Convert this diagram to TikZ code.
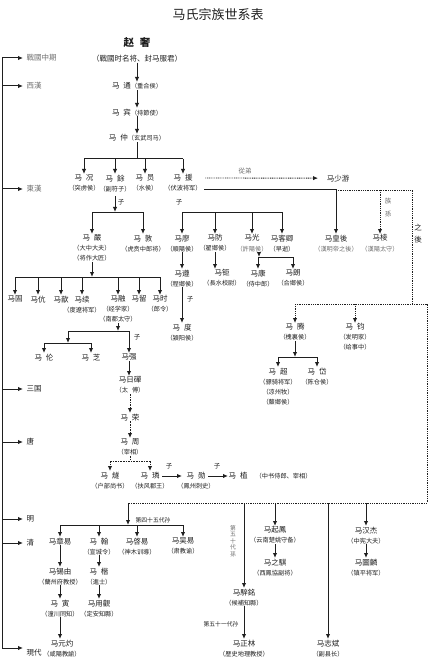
\documentclass[tikz,border=0pt]{standalone}
\usepackage{fontspec}
\setmainfont{Noto Sans CJK SC}
\usetikzlibrary{arrows.meta}
\definecolor{ink}{HTML}{1f1f1f}
\definecolor{pale}{HTML}{707070}
\newcommand{\mgap}{\hspace{4pt}}
\newcommand{\rank}[1]{{\fontsize{6.2}{10}\selectfont（#1）}}

\begin{document}
\begin{tikzpicture}[x=1pt, y=-1pt, font=\fontsize{7.5}{10}\selectfont,
  person/.style={anchor=north, align=center, inner sep=0.5pt, text=ink},
  era/.style={anchor=west, inner sep=0.5pt, text=ink},
  tag/.style={inner sep=0.5pt, text=ink, font=\fontsize{6.5}{7}\selectfont},
  link/.style={draw=ink, line width=1pt},
  arrow/.style={link, -{Latex[length=5pt, width=4.4pt]}},
  dashline/.style={link, dash pattern=on 1.6pt off 1pt},
  dasharrow/.style={dashline, -{Latex[length=5pt, width=4.4pt]}},
  dotline/.style={link, line width=0.9pt, dash pattern=on 0.9pt off 0.9pt},
  dotarrow/.style={dotline, -{Latex[length=5pt, width=4.4pt]}}
]
  \fill[white] (0,0) rectangle (435,660);
  \useasboundingbox (0,0) rectangle (435,660);

  \node[text=ink, font=\fontsize{13}{13}\selectfont] (title) at (218,14) {马氏宗族世系表};

  \node[era, text=pale] (zhanguo) at (26,58) {戰國中期};
  \node[era, text=pale] (xihan) at (26,86) {西漢};
  \node[era, text=pale] (donghan) at (26,189) {東漢};
  \node[era] (sanguo) at (26,389) {三国};
  \node[era] (tang) at (26,442) {唐};
  \node[era] (ming) at (26,519) {明};
  \node[era] (qing) at (26,543) {清};
  \node[era] (xiandai) at (26,653) {現代};

  \coordinate (spine) at (2,58);
  \coordinate (spineend) at (2,648);
  \draw[link] (spine) -- (spineend);
  \foreach \e in {zhanguo,xihan,donghan,sanguo,tang,ming,qing} {
    \draw[arrow, shorten >=3pt] (spine |- \e.west) -- (\e.west);
  }
  \draw[arrow, shorten >=3pt] (spineend) -- (spineend -| xiandai.west);

  \node[text=ink, inner sep=0.5pt, font=\fontsize{10.5}{10.5}\selectfont\bfseries] (zhao) at (137,43) {赵\hspace{6pt}奢};
  \node[person] (zhaonote) at (137,54) {（戰國时名将、封马服君）};
  \node[person] (matong) at (137,82) {马\mgap 通\rank{重合侯}};
  \node[person] (mabin) at (137,108) {马\mgap 宾\rank{持節使}};
  \node[person] (mazhong) at (137,134) {马\mgap 仲\rank{玄武司马}};
  \draw[arrow] (zhaonote) -- (matong);
  \draw[arrow] (matong) -- (mabin);
  \draw[arrow] (mabin) -- (mazhong);

  \node[person] (kuang) at (84,174) {马\mgap 况\\\rank{突虏侯}};
  \node[person] (yu) at (115,174) {马\mgap 餘\\\rank{副符子}};
  \node[person] (yuan) at (145,174) {马\mgap 员\\\rank{水侯}};
  \node[person] (mayuan) at (183,174) {马\mgap 援\\\rank{伏波将军}};
  \coordinate (bus1) at (137,159);
  \draw[link] (mazhong) -- (bus1);
  \draw[link] (kuang |- bus1) -- (mayuan |- bus1);
  \foreach \n in {kuang,yu,yuan,mayuan} {
    \draw[arrow] (\n |- bus1) -- (\n);
  }

  \node[person] (shaoyou) at (338,174) {马少游};
  \node[tag, text=pale] (congdi) at (245,171) {從弟};
  \draw[dotarrow, shorten >=8pt] ([shift={(3pt,-4pt)}]mayuan.north east) -- (shaoyou.west);

  \node[person] (yan) at (92,234) {马\mgap 嚴\\\rank{大中大夫}\\\rank{将作大匠}};
  \node[person] (dun) at (143,234) {马\mgap 敦\\\rank{虎贲中郎将}};
  \node[tag] (zi1) at (121,202) {子};
  \coordinate (bus2) at (115,212);
  \draw[arrow, shorten <=4pt] (yu) -- (yu |- bus2);
  \draw[link] (yan |- bus2) -- (dun |- bus2);
  \foreach \n in {yan,dun} {
    \draw[arrow] (\n |- bus2) -- (\n);
  }

  \node[person] (liao) at (182,234) {马廖\\\rank{順陽侯}};
  \node[person] (fang) at (215,234) {马防\\\rank{翟鄉侯}};
  \node[person] (guang) at (252,234) {马光\\{\color{pale}\rank{許陽侯}}};
  \node[person] (keqing) at (282,234) {马客卿\\\rank{早逝}};
  \node[tag] (zi2) at (179,202) {子};
  \coordinate (bus3) at (182,212);
  \draw[link] (liao |- bus3) -- (keqing |- bus3);
  \foreach \n in {liao,fang,guang,keqing} {
    \draw[arrow] (\n |- bus3) -- (\n);
  }

  \node[person] (huanghou) at (336,234) {马皇後\\{\color{pale}\rank{漢明帝之後}}};
  \node[person] (leng) at (380,234) {马棱\\{\color{pale}\rank{漢陽太守}}};
  \node[tag, text=pale, align=center, font=\fontsize{6.5}{13}\selectfont] (zusun) at (388,208) {族\\孫};
  \node[tag, align=center, font=\fontsize{7.5}{12}\selectfont] (zhihou) at (418,234) {之\\後};
  \coordinate (heir) at (204,190);
  \coordinate (line1) at (412,190);
  \coordinate (bar2) at (412,304);
  \coordinate (far2) at (427,304);
  \coordinate (far3) at (427,503);
  \coordinate (bar3) at (128,503);
  \draw[arrow] (heir) -| (huanghou);
  \draw[dotline] (huanghou |- heir) -- (line1) -- (bar2);
  \draw[dotarrow] (leng |- heir) -- (leng);

  \node[person] (zun) at (182,269) {马遵\\\rank{程鄉侯}};
  \node[person] (ju) at (222,269) {马钜\\\rank{長水校尉}};
  \node[person] (kang) at (258,269) {马康\\\rank{侍中郎}};
  \node[person] (lang) at (293,269) {马朗\\\rank{合鄉侯}};
  \draw[arrow] (liao) -- (zun);
  \draw[arrow] (fang) -- (fang |- ju.north);
  \coordinate (bus5) at (259,257);
  \draw[arrow] (guang.south -| bus5) -- (bus5);
  \draw[link] (kang |- bus5) -- (lang |- bus5);
  \foreach \n in {kang,lang} {
    \draw[arrow] (\n |- bus5) -- (\n);
  }

  \node[person] (madu) at (182,323) {马\mgap 度\\\rank{潁阳侯}};
  \node[tag] (zi3) at (190,299) {子};
  \draw[arrow] (zun) -- (madu);

  \node[person] (gu) at (15,295) {马固};
  \node[person] (hang) at (38,295) {马伉};
  \node[person] (xin) at (61,295) {马歆};
  \node[person] (xu) at (82,295) {马续\\\rank{度遼将军}};
  \node[person] (rong) at (118,295) {马融\\\rank{经学家}\\\rank{南郡太守}};
  \node[person] (liu) at (139,295) {马留};
  \node[person] (shi) at (160,295) {马时\\\rank{郎令}};
  \coordinate (bus6) at (94,277);
  \draw[arrow] (yan) -- (yan |- bus6);
  \draw[link] (gu |- bus6) -- (shi |- bus6);
  \foreach \n in {gu,hang,xin,xu,rong,liu,shi} {
    \draw[arrow] (\n |- bus6) -- (\n);
  }

  \node[person] (lun) at (44,353) {马\mgap 伦};
  \node[person] (zhi) at (91,353) {马\mgap 芝};
  \node[person] (qiang) at (129,353) {马强};
  \node[tag] (zi4) at (137,337) {子};
  \coordinate (bus7) at (118,331);
  \coordinate (bus7a) at (68,331);
  \coordinate (bus8) at (68,343);
  \draw[arrow] (rong) -- (bus7);
  \draw[link] (bus7a) -- (qiang |- bus7);
  \draw[arrow] (bus7a) -- (bus8);
  \draw[arrow] (qiang |- bus7) -- (qiang);
  \draw[link] (lun |- bus8) -- (zhi |- bus8);
  \foreach \n in {lun,zhi} {
    \draw[arrow] (\n |- bus8) -- (\n);
  }

  \node[person] (midi) at (130,376) {马日磾\\\rank{太\mgap 傅}};
  \node[person] (marong) at (130,413) {马\mgap 荣};
  \node[person] (zhou) at (130,438) {马\mgap 周\\\rank{宰相}};
  \draw[arrow] (qiang) -- (qiang |- midi.north);
  \draw[dasharrow] (midi) -- (marong);
  \draw[dasharrow] (marong) -- (zhou);

  \node[person] (sui) at (110,471) {马\mgap 燧\\\rank{户部尚书}};
  \node[person] (lin) at (150,471) {马\mgap 璘\\\rank{扶风郡王}};
  \node[person] (xun) at (196,471) {马\mgap 勋\\\rank{鳳州刺史}};
  \node[person, anchor=west] (mazhi) at (228,476) {马\mgap 植\hspace{8pt}\rank{中书侍郎、宰相}};
  \coordinate (bus9) at (130,461);
  \draw[dashline] (zhou) -- (bus9);
  \draw[dashline] (sui |- bus9) -- (lin |- bus9);
  \foreach \n in {sui,lin} {
    \draw[dasharrow] (\n |- bus9) -- (\n);
  }
  \node[tag] (zi5) at (169,466) {子};
  \node[tag] (zi6) at (217,466) {子};
  \draw[arrow] ([shift={(12pt,-5pt)}]lin.north) -- ([shift={(-14pt,-5pt)}]xun.north);
  \draw[arrow] ([shift={(12pt,-5pt)}]xun.north) -- (mazhi.west);

  \node[person] (teng) at (295,323) {马\mgap 腾\\\rank{槐裏侯}};
  \node[person] (jun) at (355,323) {马\mgap 钧\\\rank{发明家}\\\rank{给事中}};
  \draw[dotline] (teng |- bar2) -- (far2) -- (far3) -- (bar3);
  \foreach \n in {teng,jun} {
    \draw[dotarrow] (\n |- bar2) -- (\n);
  }

  \node[person] (chao) at (278,367) {马\mgap 超\\\rank{骠骑将军}\\\rank{凉州牧}\\\rank{斄鄉侯}};
  \node[person] (dai) at (317,367) {马\mgap 岱\\\rank{陈仓侯}};
  \coordinate (bus10) at (295,357);
  \draw[arrow] (teng) -- (bus10);
  \draw[link] (chao |- bus10) -- (dai |- bus10);
  \foreach \n in {chao,dai} {
    \draw[arrow] (\n |- bus10) -- (\n);
  }

  \node[person] (zhangyi) at (60,537) {马章易};
  \node[person] (mahan) at (99,537) {马\mgap 翰\\\rank{宣城令}};
  \node[person] (qiyi) at (137,537) {马啓易\\\rank{神木训導}};
  \node[person] (wuyi) at (183,537) {马吴易\\\rank{肃教谕}};
  \node[tag, font=\fontsize{5.8}{6}\selectfont] (gen45) at (153,520) {第四十五代孙};
  \coordinate (bus4) at (128,525);
  \draw[arrow] (bar3) -- (bus4);
  \draw[link] (zhangyi |- bus4) -- (wuyi |- bus4);
  \foreach \n in {zhangyi,mahan,qiyi,wuyi} {
    \draw[arrow] (\n |- bus4) -- (\n);
  }

  \node[person] (xiyou) at (60,567) {马锡由\\\rank{蘭州府教授}};
  \node[person] (kai) at (99,567) {马\mgap 楷\\\rank{進士}};
  \node[person] (yin) at (60,599) {马\mgap 寅\\\rank{潼川同知}};
  \node[person] (yongguan) at (99,599) {马用觀\\\rank{定安知縣}};
  \node[person] (yuanzhuo) at (62,639) {马元灼\\\rank{咸陽教諭}};
  \draw[arrow] (zhangyi) -- (xiyou);
  \draw[arrow] (mahan) -- (kai);
  \draw[arrow] (xiyou) -- (yin);
  \draw[arrow] (kai) -- (yongguan);
  \draw[arrow] (yin) -- (yin |- yuanzhuo.north);

  \node[person] (ximing) at (244,588) {马騂銘\\\rank{候補知縣}};
  \node[person] (zhenglin) at (244,639) {马正林\\\rank{歴史地理教授}};
  \node[person] (qifeng) at (275,526) {马起鳳\\\rank{云南楚姚守备}};
  \node[person] (zhiqi) at (275,558) {马之騏\\\rank{西鳳協副将}};
  \node[person] (zhibin) at (328,639) {马志斌\\\rank{副县长}};
  \node[person] (hanjie) at (366,526) {马汉杰\\\rank{中宪大夫}};
  \node[person] (tulin) at (366,558) {马圖麟\\\rank{镇平将军}};
  \node[tag, text=pale, align=center, font=\fontsize{5.8}{6.5}\selectfont] (gen50) at (233,541) {第\\五\\十\\代\\孫};
  \node[tag, font=\fontsize{5.8}{6}\selectfont] (gen51) at (221,624) {第五十一代孙};
  \foreach \n in {ximing,qifeng,zhibin,hanjie} {
    \draw[arrow] (\n |- bar3) -- (\n);
  }
  \draw[arrow] (ximing) -- (zhenglin);
  \draw[arrow] (qifeng) -- (zhiqi);
  \draw[arrow] (hanjie) -- (tulin);
\end{tikzpicture}
\end{document}
